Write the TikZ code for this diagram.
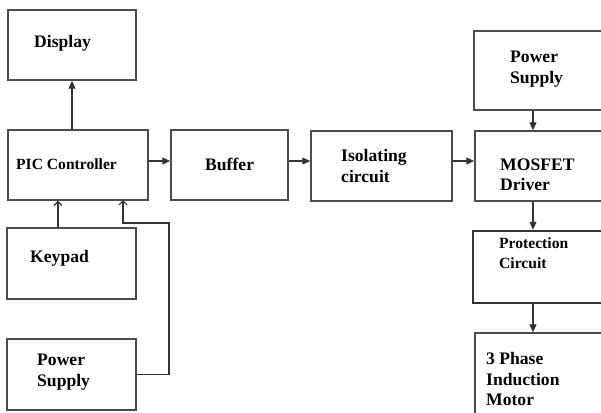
\documentclass[tikz,border=0pt]{standalone}
\usepackage{fontspec}
\setmainfont{Liberation Serif}
\usetikzlibrary{arrows.meta}
\begin{document}
\begin{tikzpicture}[x=1pt,y=-1pt,
  box/.style={draw=black!70, line width=1.4pt, rectangle, inner sep=0pt},
  thickbox/.style={draw=black!80, line width=2.4pt, rectangle, inner sep=0pt},
  lbl/.style={anchor=west, align=left, inner sep=0pt, font=\fontsize{17.6}{20.5}\selectfont\bfseries},
  slbl/.style={anchor=west, align=left, inner sep=0pt, font=\fontsize{15.6}{20}\selectfont\bfseries},
  arr/.style={draw=black!80, line width=1.1pt, -{Triangle[length=8pt,width=7pt]}},
  oarr/.style={draw=black!80, line width=1.1pt, -{Straight Barb[length=4pt,width=8pt]}}]
\useasboundingbox (0,0) rectangle (601,412);
\clip (0,0) rectangle (601,412);
% boxes
\node[box, minimum width=128pt, minimum height=70pt] (disp) at (72,45) {};
\node[box, minimum width=140pt, minimum height=70pt] (pic) at (78,165) {};
\node[box, minimum width=117pt, minimum height=70pt] (buf) at (229.5,165) {};
\node[box, minimum width=141pt, minimum height=70pt] (iso) at (381.5,166) {};
\node[box, minimum width=145pt, minimum height=70pt] (mos) at (547.5,166) {};
\node[box, minimum width=146pt, minimum height=79pt] (psr) at (547,70.5) {};
\node[thickbox, minimum width=147pt, minimum height=72pt] (prot) at (546.5,267) {};
\node[box, minimum width=145pt, minimum height=97pt] (mot) at (547.5,381.5) {};
\node[box, minimum width=129pt, minimum height=71pt] (kp) at (71.5,263.5) {};
\node[box, minimum width=129pt, minimum height=71pt] (psl) at (71.5,374.5) {};
% labels
\node[lbl] (tdisp) at (34,43) {Display};
\node[slbl] (tpic) at (16,164) {PIC Controller};
\node[lbl] (tbuf) at (205,164) {Buffer};
\node[lbl] (tiso) at (341,166) {Isolating\\circuit};
\node[lbl] (tmos) at (500,175) {MOSFET\\Driver};
\node[lbl] (tpsr) at (510,69) {Power\\Supply};
\node[slbl] (tprot) at (499,253) {Protection\\Circuit};
\node[lbl] (tmot) at (486,379) {3 Phase\\Induction\\Motor};
\node[lbl] (tkp) at (30,258) {Keypad};
\node[lbl] (tpsl) at (37,372) {Power\\Supply};
% helper coordinates
\coordinate (hy) at (0,161);
\coordinate (col) at (533,0);
\coordinate (kx) at (58,0);
\coordinate (c1) at (169,223);
\coordinate (t1) at (123,200);
% connectors
\draw[arr] (pic.north -| disp) -- (disp.south);
\draw[arr] (pic.east |- hy) -- (buf.west |- hy);
\draw[arr] (buf.east |- hy) -- (iso.west |- hy);
\draw[arr] (iso.east |- hy) -- (mos.west |- hy);
\draw[arr] (psr.south -| col) -- (mos.north -| col);
\draw[arr] (mos.south -| col) -- (prot.north -| col);
\draw[arr] (prot.south -| col) -- (mot.north -| col);
\draw[oarr] (kp.north -| kx) -- (pic.south -| kx);
\draw[oarr] (psl.east) -| (c1) -| (t1);
\end{tikzpicture}
\end{document}
